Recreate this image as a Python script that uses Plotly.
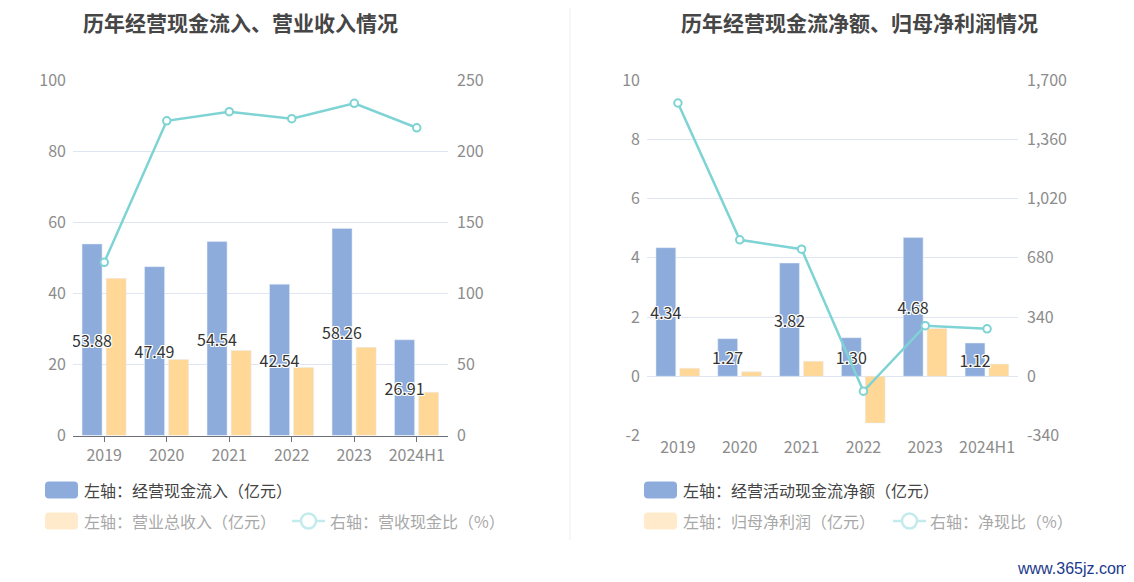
import plotly.graph_objects as go

years = ["2019", "2020", "2021", "2022", "2023", "2024H1"]

# left chart
cash_inflow = [53.88, 47.49, 54.54, 42.54, 58.26, 26.91]   # 经营现金流入 (亿元)
revenue = [44.2, 21.4, 23.9, 19.1, 24.8, 12.2]             # 营业总收入 (亿元)
cash_ratio = [121.8, 221.3, 227.7, 222.8, 233.6, 216.4]    # 营收现金比 (%)

# right chart
op_cf_net = [4.34, 1.27, 3.82, 1.30, 4.68, 1.12]           # 经营活动现金流净额 (亿元)
net_profit = [0.27, 0.15, 0.51, -1.58, 1.61, 0.41]         # 归母净利润 (亿元)
net_cash_ratio = [1568, 783, 729, -86, 290, 272]           # 净现比 (%)

left_ticks = [-2, 0, 2, 4, 6, 8, 10]
left_ticktext = ["-2", "0", "2", "4", "6", "8", "10"]
right_ticks = [-340, 0, 340, 680, 1020, 1360, 1700]
right_ticktext = ["-340", "0", "340", "680", "1,020", "1,360", "1,700"]

# page body has an 8px margin, so the figure starts at (8, 8) of the window
OFF = 8
W, H = 1134 - OFF, 582 - OFF
FONT = "Noto Sans CJK SC"
BLUE = "#8DACDB"
ORANGE = "#FFD796"
TEAL = "#7ED3D4"
GRID = "#E0E6F1"
AXIS = "#6E7079"
TICK = "#8C8C8C"

BAR_W = 0.32
BLUE_OFF = -0.355
ORANGE_OFF = 0.03


def px(x):
    return (x - OFF) / W


def py(y):
    return 1 - (y - OFF) / H


shadow = "1px 1px 0 #fff, -1px -1px 0 #fff, 1px -1px 0 #fff, -1px 1px 0 #fff, 0 1px 0 #fff, 0 -1px 0 #fff, 1px 0 0 #fff, -1px 0 0 #fff"
label_font = dict(family=FONT, size=16, color="#333333", shadow=shadow)
line_style = dict(color=TEAL, width=2.5)
marker_style = dict(symbol="circle", size=7.5, color="white", line=dict(color=TEAL, width=2))

fig = go.Figure()

# orange first so the blue labels sit on top of it
fig.add_bar(x=years, y=revenue, marker_color=ORANGE, width=BAR_W, offset=ORANGE_OFF,
            xaxis="x", yaxis="y", showlegend=False)
fig.add_bar(x=years, y=cash_inflow, marker_color=BLUE, width=BAR_W, offset=BLUE_OFF,
            text=[f"{v:.2f}" for v in cash_inflow],
            textposition="inside", insidetextanchor="middle", constraintext="none", textangle=0,
            textfont=label_font, xaxis="x", yaxis="y", showlegend=False)
fig.add_scatter(x=years, y=cash_ratio, mode="lines+markers", xaxis="x", yaxis="y2",
                line=line_style, marker=marker_style, cliponaxis=False, showlegend=False)

fig.add_bar(x=years, y=net_profit, marker_color=ORANGE, width=BAR_W, offset=ORANGE_OFF,
            xaxis="x3", yaxis="y3", showlegend=False)
fig.add_bar(x=years, y=op_cf_net, marker_color=BLUE, width=BAR_W, offset=BLUE_OFF,
            text=[f"{v:.2f}" for v in op_cf_net],
            textposition="inside", insidetextanchor="middle", constraintext="none", textangle=0,
            textfont=label_font, xaxis="x3", yaxis="y3", showlegend=False)
fig.add_scatter(x=years, y=net_cash_ratio, mode="lines+markers", xaxis="x3", yaxis="y4",
                line=line_style, marker=marker_style, cliponaxis=False, showlegend=False)

y_dom = [py(435.5), py(80)]
tickfont = dict(family=FONT, size=16, color=TICK)

# position of the zero line on the right chart, in paper units
zero_pos = y_dom[0] + (0 - left_ticks[0]) / (left_ticks[-1] - left_ticks[0]) * (y_dom[1] - y_dom[0])

fig.update_layout(
    width=W, height=H,
    margin=dict(l=0, r=0, t=0, b=0, autoexpand=False),
    paper_bgcolor="white", plot_bgcolor="white",
    font=dict(family=FONT),
    barmode="overlay",
    xaxis=dict(domain=[px(73), px(448)], anchor="y", type="category", range=[-0.5, 5.5],
               showline=True, linecolor=AXIS, ticks="outside", ticklen=5, tickcolor=AXIS,
               tickfont=tickfont, showgrid=False, automargin=False),
    yaxis=dict(domain=y_dom, anchor="x", range=[0, 100], dtick=20, gridcolor=GRID, zeroline=False,
               tickfont=tickfont, ticklabelstandoff=6, automargin=False),
    yaxis2=dict(overlaying="y", anchor="x", side="right", range=[0, 250], dtick=50, showgrid=False,
                zeroline=False, tickfont=tickfont, ticklabelstandoff=8, automargin=False),
    xaxis3=dict(domain=[px(647), px(1018)], anchor="y3", type="category", range=[-0.5, 5.5],
                showline=False, ticks="", tickfont=tickfont, showgrid=False, automargin=False),
    xaxis5=dict(overlaying="x3", anchor="free", position=zero_pos, range=[-0.5, 5.5],
                tickvals=list(range(len(years))), showticklabels=False,
                showline=True, linecolor=AXIS, ticks="outside", ticklen=5, tickcolor=AXIS,
                showgrid=False, zeroline=False, automargin=False),
    yaxis3=dict(domain=y_dom, anchor="x3", range=[left_ticks[0], left_ticks[-1]], tickvals=left_ticks,
                ticktext=left_ticktext, gridcolor=GRID, zeroline=False, tickfont=tickfont,
                ticklabelstandoff=6, automargin=False),
    yaxis4=dict(overlaying="y3", anchor="x3", side="right", range=[right_ticks[0], right_ticks[-1]],
                tickvals=right_ticks, ticktext=right_ticktext, showgrid=False, zeroline=False,
                tickfont=tickfont, ticklabelstandoff=8, automargin=False),
)

# titles
title_font = dict(family=FONT, size=21, color="#464646", weight="bold")
fig.add_annotation(text="历年经营现金流入、营业收入情况", x=px(240), y=py(22), xref="paper", yref="paper",
                   xanchor="center", yanchor="middle", borderpad=0, showarrow=False, font=title_font)
fig.add_annotation(text="历年经营现金流净额、归母净利润情况", x=px(859), y=py(22), xref="paper", yref="paper",
                   xanchor="center", yanchor="middle", borderpad=0, showarrow=False, font=title_font)

# divider
fig.add_shape(type="line", xref="paper", yref="paper", x0=px(570), x1=px(570), y0=py(OFF), y1=py(540),
              line=dict(color="#EEEEEE", width=1))


def swatch(x, y, color):
    x0, x1, y0, y1 = x, x + 33, y - 8.5, y + 8.5
    r = 4
    path = (f"M {px(x0 + r)},{py(y0)} L {px(x1 - r)},{py(y0)} Q {px(x1)},{py(y0)} {px(x1)},{py(y0 + r)} "
            f"L {px(x1)},{py(y1 - r)} Q {px(x1)},{py(y1)} {px(x1 - r)},{py(y1)} "
            f"L {px(x0 + r)},{py(y1)} Q {px(x0)},{py(y1)} {px(x0)},{py(y1 - r)} "
            f"L {px(x0)},{py(y0 + r)} Q {px(x0)},{py(y0)} {px(x0 + r)},{py(y0)} Z")
    fig.add_shape(type="path", path=path, xref="paper", yref="paper", fillcolor=color, line_width=0)


def line_icon(x, y, color):
    fig.add_shape(type="line", xref="paper", yref="paper", x0=px(x), x1=px(x + 33), y0=py(y), y1=py(y),
                  line=dict(color=color, width=2.5))
    fig.add_shape(type="circle", xref="paper", yref="paper", x0=px(x + 9), x1=px(x + 24),
                  y0=py(y - 7.5), y1=py(y + 7.5), fillcolor="white", line=dict(color=color, width=2.5))


def legend_text(x, y, text, color):
    fig.add_annotation(text=text, x=px(x), y=py(y), xref="paper", yref="paper", xanchor="left",
                       yanchor="middle", showarrow=False, font=dict(family=FONT, size=16, color=color))


DARK_TXT = "#444444"
FADE_TXT = "#A8A8A8"
FADE_ORANGE = "#FFEBCC"
FADE_TEAL = "#C3EBEC"

swatch(45, 490, BLUE)
legend_text(82, 490, "左轴：经营现金流入（亿元）", DARK_TXT)
swatch(45, 521, FADE_ORANGE)
legend_text(82, 521, "左轴：营业总收入（亿元）", FADE_TXT)
line_icon(292, 521, FADE_TEAL)
legend_text(328, 521, "右轴：营收现金比（%）", FADE_TXT)

swatch(644, 490, BLUE)
legend_text(681, 490, "左轴：经营活动现金流净额（亿元）", DARK_TXT)
swatch(644, 521, FADE_ORANGE)
legend_text(681, 521, "左轴：归母净利润（亿元）", FADE_TXT)
line_icon(893, 521, FADE_TEAL)
legend_text(928, 521, "右轴：净现比（%）", FADE_TXT)

# watermark
fig.add_annotation(text="www.365jz.com", x=px(1131), y=py(568), xref="paper", yref="paper",
                   xanchor="right", yanchor="middle", showarrow=False,
                   font=dict(family="Liberation Sans Narrow, Liberation Sans", size=16, color="#1B3A8C"))

fig.write_html("out.html")
